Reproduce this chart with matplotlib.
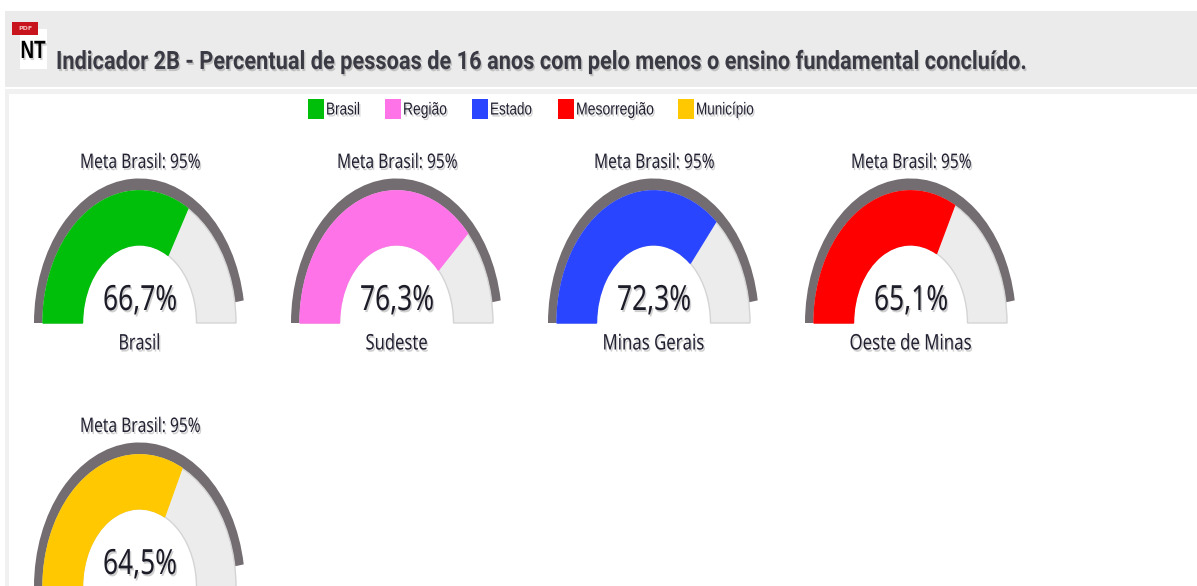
import matplotlib
matplotlib.use('Agg')
import matplotlib.pyplot as plt
import matplotlib.patheffects as pe
from matplotlib.patches import Wedge, Rectangle
from matplotlib.transforms import Affine2D

# Dados dos medidores
nomes = ['Brasil', 'Sudeste', 'Minas Gerais', 'Oeste de Minas', '']
valores = [66.7, 76.3, 72.3, 65.1, 64.5]
cores = ['#00bf0a', '#ff73e8', '#2a45ff', '#ff0000', '#ffc800']
meta = 95

# Legenda
legenda = ['Brasil', 'Região', 'Estado', 'Mesorregião', 'Município']
titulo = 'Indicador 2B - Percentual de pessoas de 16 anos com pelo menos o ensino fundamental concluído.'

# Posicoes e larguras medidas na imagem (px)
legenda_x = [308, 385, 472, 558, 678]
legenda_larg = [34, 44, 42, 78, 58]
nomes_larg = [42, 62, 102, 122, 0]

fig = plt.figure(figsize=(11.97, 5.86), dpi=100)
ax = fig.add_axes([0, 0, 1, 1])
ax.set_xlim(0, 1197)
ax.set_ylim(586, 0)
ax.axis('off')
renderer = fig.canvas.get_renderer()


# A imagem original esta esticada: comprime o texto na horizontal e desenha a sombra
class Comprime(pe.AbstractPathEffect):
    def __init__(self, fator, x0):
        super().__init__()
        self.fator = fator
        self.x0 = x0
        self.sombra = pe.SimplePatchShadow(offset=(1, -1.5), shadow_rgbFace='#777777', alpha=0.35)

    def draw_path(self, renderer, gc, tpath, affine, rgbFace=None):
        novo = affine + Affine2D().translate(-self.x0, 0).scale(self.fator, 1).translate(self.x0, 0)
        self.sombra.draw_path(renderer, gc, tpath, novo, rgbFace)
        renderer.draw_path(gc, tpath, novo, rgbFace)


def texto(x, y, s, largura, **kw):
    t = ax.text(x, y, s, va='center', **kw)
    fator = largura / t.get_window_extent(renderer).width
    t.set_path_effects([Comprime(fator, x)])
    return t


# Fundo da pagina
ax.add_patch(Rectangle((5, 11), 1192, 76, color='#ebebeb', lw=0))
ax.add_patch(Rectangle((5, 89), 1192, 5, color='#f1f1f1', lw=0))
ax.add_patch(Rectangle((5, 89), 4, 497, color='#f1f1f1', lw=0))

# Icone PDF / NT
ax.add_patch(Rectangle((20, 29), 27, 40, color='white', lw=0, zorder=2))
ax.add_patch(Rectangle((12, 22), 26, 13, color='#c8141c', lw=0, zorder=3))
ax.text(25, 28.5, 'PDF', color='#f3c0c0', fontsize=4.5, ha='center', va='center', zorder=4, fontweight='bold')
texto(33, 51, 'NT', 25, color='black', fontsize=18, fontweight='bold', ha='center',
      family='Liberation Sans', zorder=4)

texto(56, 62, titulo, 971, color='#3a3a44', fontsize=18.2, fontweight='bold', family='Roboto', ha='left')

for x0, rotulo, cor, larg in zip(legenda_x, legenda, cores, legenda_larg):
    ax.add_patch(Rectangle((x0, 99), 16, 20, color=cor, lw=0))
    texto(x0 + 18, 110, rotulo, larg, fontsize=12.5, color='#222233', ha='left', family='Liberation Sans')


def medidor(cx, base, valor, cor, nome, larg):
    # y esticado tambem nos arcos
    t = Affine2D().scale(1, -1).scale(1, 1.37).translate(cx, base) + ax.transData
    ang = 180 - 180 * valor / 100
    ang_meta = 180 - 180 * meta / 100
    ax.add_patch(Wedge((0, 0), 105.5, ang_meta, 180, width=9, color='#736c70', lw=0, transform=t))
    ax.add_patch(Wedge((0, 0), 96.5, 0, 180, width=39.5, facecolor='#ececec', edgecolor='#d4d4d4', lw=1, transform=t))
    ax.add_patch(Wedge((0, 0), 96.5, ang, 180, width=39.5, facecolor=cor, edgecolor=cor, lw=1, transform=t))
    texto(cx + 1, base - 160, 'Meta Brasil: %d%%' % meta, 121, fontsize=14.5, color='#222233', ha='center',
          family='Noto Sans')
    texto(cx + 0.5, base - 22, ('%.1f%%' % valor).replace('.', ','), 74, fontsize=25, color='#1c1c28', ha='center',
          family='Noto Sans')
    if nome:
        texto(cx, base + 21, nome, larg, fontsize=15.5, color='#222233', ha='center', family='Noto Sans')


for i in range(len(valores)):
    cx = 139.5 + 257 * (i % 4)
    base = 323 + 264 * (i // 4)
    medidor(cx, base, valores[i], cores[i], nomes[i], nomes_larg[i])

fig.savefig('out.png', dpi=100)
